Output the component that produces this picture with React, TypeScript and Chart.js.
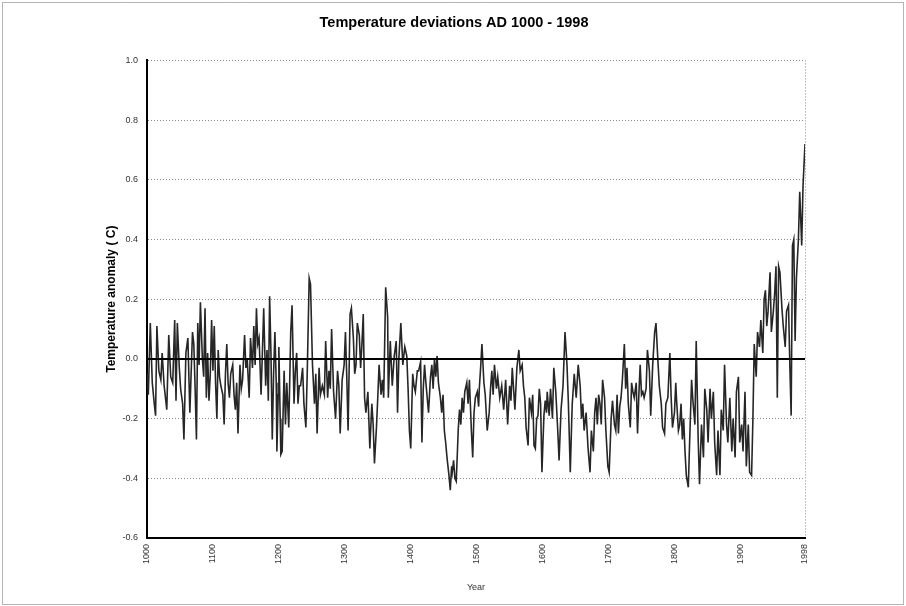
import { useEffect, useRef } from "react";
import { Chart, registerables } from "chart.js";

Chart.register(...registerables);

const years = [
  1000, 1002, 1005, 1008, 1011, 1013, 1015, 1018, 1021, 1023,
  1026, 1030, 1033, 1036, 1039, 1042, 1044, 1046, 1049, 1051,
  1054, 1056, 1059, 1062, 1065, 1069, 1071, 1073, 1075, 1077,
  1079, 1081, 1084, 1086, 1088, 1090, 1092, 1094, 1096, 1098,
  1100, 1102, 1104, 1106, 1108, 1110, 1112, 1115, 1117, 1119,
  1121, 1123, 1125, 1127, 1130, 1132, 1134, 1136, 1138, 1141,
  1143, 1145, 1148, 1150, 1152, 1155, 1157, 1160, 1162, 1164,
  1166, 1168, 1170, 1173, 1175, 1177, 1180, 1182, 1184, 1186,
  1188, 1190, 1192, 1194, 1196, 1197, 1199, 1200, 1202, 1203,
  1205, 1208, 1210, 1212, 1215, 1218, 1220, 1223, 1225, 1227,
  1229, 1231, 1233, 1236, 1238, 1241, 1243, 1246, 1248, 1251,
  1254, 1256, 1258, 1261, 1263, 1266, 1269, 1271, 1274, 1276,
  1278, 1280, 1283, 1286, 1289, 1291, 1293, 1296, 1299, 1301,
  1303, 1305, 1308, 1310, 1313, 1315, 1317, 1319, 1322, 1324,
  1326, 1328, 1330, 1332, 1335, 1338, 1341, 1343, 1345, 1348,
  1350, 1352, 1355, 1357, 1359, 1362, 1365, 1366, 1369, 1372,
  1375, 1378, 1380, 1382, 1385, 1388, 1391, 1394, 1396, 1398,
  1400, 1403, 1405, 1407, 1410, 1412, 1415, 1417, 1419, 1421,
  1423, 1425, 1427, 1430, 1432, 1434, 1436, 1438, 1440, 1442,
  1445, 1447, 1449, 1451, 1453, 1455, 1458, 1460, 1462, 1463,
  1465, 1467, 1469, 1471, 1472, 1474, 1476, 1478, 1480, 1482,
  1485, 1487, 1489, 1492, 1494, 1496, 1498, 1501, 1503, 1504,
  1506, 1508, 1511, 1513, 1516, 1519, 1521, 1523, 1525, 1527,
  1530, 1532, 1535, 1538, 1541, 1544, 1547, 1550, 1552, 1554,
  1556, 1558, 1561, 1564, 1566, 1569, 1571, 1573, 1575, 1578,
  1580, 1583, 1585, 1587, 1589, 1591, 1593, 1595, 1597, 1599,
  1602, 1604, 1606, 1607, 1610, 1612, 1615, 1617, 1620, 1623,
  1625, 1628, 1631, 1634, 1637, 1639, 1642, 1644, 1645, 1648,
  1651, 1654, 1657, 1659, 1661, 1663, 1666, 1669, 1672, 1674,
  1677, 1679, 1681, 1683, 1685, 1687, 1689, 1691, 1694, 1696,
  1699, 1701, 1704, 1706, 1709, 1711, 1713, 1715, 1717, 1719,
  1721, 1724, 1726, 1728, 1730, 1733, 1735, 1737, 1739, 1742,
  1744, 1746, 1748, 1750, 1752, 1754, 1757, 1759, 1762, 1764,
  1767, 1770, 1772, 1775, 1777, 1780, 1782, 1785, 1787, 1790,
  1793, 1795, 1797, 1800, 1802, 1803, 1806, 1808, 1810, 1812,
  1814, 1816, 1818, 1821, 1823, 1826, 1828, 1831, 1833, 1836,
  1838, 1841, 1844, 1846, 1849, 1851, 1854, 1856, 1859, 1861,
  1864, 1866, 1869, 1871, 1874, 1876, 1879, 1881, 1884, 1887,
  1889, 1892, 1894, 1897, 1899, 1902, 1904, 1907, 1909, 1912,
  1914, 1917, 1919, 1921, 1924, 1926, 1929, 1931, 1934, 1936,
  1938, 1940, 1942, 1945, 1947, 1950, 1952, 1954, 1956, 1958,
  1960, 1963, 1965, 1968, 1970, 1973, 1975, 1977, 1979, 1981,
  1983, 1985, 1988, 1990, 1993, 1995, 1998,
];

const anomalies = [
  -0.05, -0.12, 0.12, -0.08, -0.15, -0.19, 0.11, -0.04, -0.07, 0.02,
  -0.09, -0.17, 0.08, -0.06, -0.08, 0.13, -0.14, 0.12, -0.03, -0.10,
  -0.15, -0.27, 0.02, 0.07, -0.18, 0.09, 0.05, -0.10, -0.27, 0.12,
  -0.02, 0.19, 0.00, -0.06, 0.17, -0.13, 0.02, -0.14, -0.05, 0.13,
  -0.04, 0.11, -0.08, -0.20, 0.03, -0.06, -0.09, -0.12, -0.22, -0.05,
  0.05, -0.08, -0.13, -0.05, -0.02, -0.12, -0.17, -0.08, -0.25, -0.02,
  -0.10, -0.07, 0.08, -0.03, 0.00, -0.13, 0.07, -0.03, 0.11, -0.02,
  0.17, 0.05, 0.07, -0.12, 0.02, 0.17, -0.09, 0.03, -0.14, 0.21,
  0.02, -0.27, -0.05, 0.09, -0.08, -0.31, -0.12, 0.04, -0.20, -0.32,
  -0.31, -0.04, -0.22, -0.08, -0.23, 0.09, 0.18, -0.15, -0.04, 0.02,
  -0.15, -0.09, -0.09, -0.03, -0.15, -0.23, -0.05, 0.27, 0.25, -0.02,
  -0.15, -0.05, -0.25, -0.03, -0.12, -0.09, -0.12, 0.06, -0.13, -0.04,
  -0.10, 0.10, -0.11, -0.20, -0.04, -0.09, -0.25, -0.07, -0.02, 0.09,
  -0.06, -0.24, 0.15, 0.17, 0.07, -0.05, -0.02, 0.12, 0.08, -0.03,
  0.05, 0.15, -0.13, -0.18, -0.11, -0.30, -0.15, -0.22, -0.35, -0.23,
  -0.13, -0.02, -0.12, -0.07, -0.13, 0.24, 0.14, -0.13, 0.06, -0.09,
  0.01, 0.06, -0.18, 0.00, 0.12, -0.02, 0.04, 0.01, -0.10, -0.24,
  -0.30, -0.05, -0.09, -0.11, -0.04, -0.04, -0.01, -0.28, -0.10, -0.02,
  -0.08, -0.13, -0.18, -0.06, -0.02, -0.10, 0.00, -0.06, 0.01, -0.08,
  -0.13, -0.18, -0.12, -0.24, -0.28, -0.33, -0.39, -0.44, -0.36, -0.38,
  -0.34, -0.40, -0.41, -0.30, -0.24, -0.17, -0.22, -0.13, -0.18, -0.11,
  -0.08, -0.15, -0.07, -0.24, -0.33, -0.18, -0.13, -0.11, -0.16, -0.10,
  -0.03, 0.05, -0.08, -0.12, -0.24, -0.18, -0.10, -0.04, -0.12, -0.02,
  -0.10, -0.06, -0.13, -0.09, -0.17, -0.07, -0.22, -0.09, -0.14, -0.03,
  -0.10, -0.17, -0.03, 0.03, -0.04, -0.02, -0.09, -0.13, -0.23, -0.29,
  -0.13, -0.18, -0.12, -0.29, -0.30, -0.20, -0.19, -0.10, -0.15, -0.38,
  -0.19, -0.14, -0.18, -0.11, -0.19, -0.10, -0.20, -0.03, -0.11, -0.24,
  -0.34, -0.17, -0.09, 0.09, -0.02, -0.14, -0.38, -0.22, -0.15, -0.05,
  -0.13, -0.02, -0.09, -0.20, -0.15, -0.24, -0.18, -0.30, -0.38, -0.24,
  -0.31, -0.18, -0.13, -0.22, -0.12, -0.15, -0.22, -0.07, -0.13, -0.24,
  -0.36, -0.38, -0.20, -0.14, -0.22, -0.24, -0.12, -0.25, -0.16, -0.13,
  -0.07, 0.05, -0.10, -0.03, -0.15, -0.23, -0.08, -0.11, -0.13, -0.08,
  -0.25, -0.12, -0.02, -0.12, -0.11, -0.13, -0.10, 0.03, -0.04, -0.19,
  -0.02, 0.09, 0.12, -0.01, -0.09, -0.15, -0.23, -0.25, -0.15, -0.13,
  0.02, -0.13, -0.23, -0.18, -0.08, -0.13, -0.24, -0.22, -0.15, -0.27,
  -0.20, -0.31, -0.39, -0.43, -0.28, -0.07, -0.14, -0.22, 0.06, -0.27,
  -0.42, -0.22, -0.33, -0.10, -0.17, -0.28, -0.10, -0.20, -0.11, -0.28,
  -0.39, -0.24, -0.39, -0.17, -0.24, -0.02, -0.22, -0.28, -0.13, -0.31,
  -0.20, -0.33, -0.11, -0.06, -0.28, -0.22, -0.31, -0.11, -0.36, -0.22,
  -0.38, -0.39, -0.20, 0.05, -0.06, 0.09, 0.04, 0.13, 0.02, 0.20,
  0.23, 0.11, 0.16, 0.29, 0.09, 0.16, 0.22, 0.31, -0.13, 0.31,
  0.29, 0.17, 0.11, 0.04, 0.16, 0.18, -0.02, -0.19, 0.38, 0.40,
  0.06, 0.27, 0.40, 0.56, 0.38, 0.58, 0.72,
];

const xTickYears = [1000, 1100, 1200, 1300, 1400, 1500, 1600, 1700, 1800, 1900, 1998];
const yMin = -0.6;
const yMax = 1.0;
const yStep = 0.2;

const chartTitle = "Temperature deviations AD 1000 - 1998";
const yTitle = "Temperature anomaly ( C)";
const xTitle = "Year";

export default function App() {
  const canvasRef = useRef<HTMLCanvasElement | null>(null);

  useEffect(() => {
    document.body.style.margin = "0";
    const canvas = canvasRef.current;
    if (!canvas) return;

    Chart.defaults.font.family = "'Liberation Sans', Arial, sans-serif";

    const framePlugin = {
      id: "frame",
      beforeDraw(chart: any) {
        const c = chart.ctx;
        c.save();
        c.fillStyle = "#ffffff";
        c.fillRect(0, 0, chart.width, chart.height);
        c.strokeStyle = "#6a6a6a";
        c.lineWidth = 1;
        c.setLineDash([1, 1]);
        c.strokeRect(2.5, 2.5, chart.width - 5, chart.height - 4);
        c.restore();
      },
    };

    const zeroLinePlugin = {
      id: "zeroLine",
      afterDatasetsDraw(chart: any) {
        const c = chart.ctx;
        const y = chart.scales.y.getPixelForValue(0);
        const { left, right } = chart.chartArea;
        c.save();
        c.strokeStyle = "#000";
        c.lineWidth = 2;
        c.beginPath();
        c.moveTo(left, y);
        c.lineTo(right, y);
        c.stroke();
        c.restore();
      },
    };

    const chart = new Chart(canvas, {
      type: "line",
      data: {
        datasets: [
          {
            data: years.map((yr, i) => ({ x: yr, y: anomalies[i] })),
            borderColor: "#262626",
            borderWidth: 1.6,
            pointRadius: 0,
            tension: 0,
            fill: false,
          },
        ],
      },
      options: {
        animation: false,
        responsive: true,
        maintainAspectRatio: false,
        layout: { padding: { left: 103, right: 101, top: 0, bottom: 10 } },
        plugins: {
          legend: { display: false },
          tooltip: { enabled: false },
          title: {
            display: true,
            text: chartTitle,
            color: "#000",
            font: { size: 14.5, weight: "bold" },
            padding: { top: 14, bottom: 29 },
          },
        },
        scales: {
          x: {
            type: "linear",
            min: 1000,
            max: 1998,
            afterBuildTicks: (scale: any) => {
              scale.ticks = xTickYears.map((v) => ({ value: v }));
            },
            afterFit: (scale: any) => {
              scale.height = 58;
            },
            ticks: {
              autoSkip: false,
              maxRotation: 90,
              minRotation: 90,
              padding: 6,
              color: "#333",
              font: { size: 9 },
              callback: (v: any) => String(v),
            },
            grid: {
              drawTicks: false,
              lineWidth: 1,
              color: (ctx: any) =>
                ctx.tick && ctx.tick.value === 1998 ? "#8a8a8a" : "rgba(0,0,0,0)",
            },
            border: { color: "#000", width: 2, dash: [1, 2] },
            title: {
              display: true,
              text: xTitle,
              color: "#333",
              font: { size: 9 },
              padding: { top: 0, bottom: 3 },
            },
          },
          y: {
            min: yMin,
            max: yMax,
            afterFit: (scale: any) => {
              scale.width = 44;
            },
            ticks: {
              stepSize: yStep,
              padding: 9,
              color: "#333",
              font: { size: 9 },
              callback: (v: any) => Number(v).toFixed(1),
            },
            grid: {
              drawTicks: false,
              lineWidth: 1,
              color: (ctx: any) =>
                ctx.tick && Math.abs(ctx.tick.value) < 1e-6 ? "rgba(0,0,0,0)" : "#8a8a8a",
            },
            border: { color: "#000", width: 2, dash: [1, 2] },
            title: {
              display: true,
              text: yTitle,
              color: "#000",
              font: { size: 12, weight: "bold" },
              padding: { top: 1, bottom: 0 },
            },
          },
        },
      },
      plugins: [framePlugin, zeroLinePlugin],
    });

    return () => chart.destroy();
  }, []);

  return (
    <div style={{ width: 906, height: 606, position: "relative" }}>
      <canvas ref={canvasRef} style={{ display: "block" }} />
    </div>
  );
}
